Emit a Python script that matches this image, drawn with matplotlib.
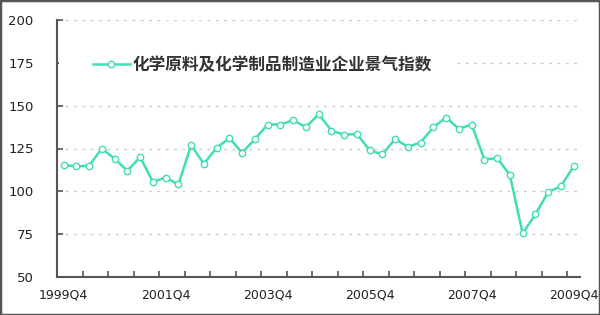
import matplotlib
matplotlib.use("Agg")
import matplotlib.pyplot as plt
from matplotlib.patches import Rectangle
import numpy as np

plt.rcParams['font.family'] = ['Noto Sans CJK SC', 'DejaVu Sans']

quarters = [f"{y}Q{q}" for y, q in
            [(1999, 4)] + [(y, q) for y in range(2000, 2010) for q in (1, 2, 3, 4)]]
index_values = [115.5, 114.5, 115, 125, 119, 112, 120, 105.5, 108, 104,
                127, 116, 125.5, 131, 122.5, 130.5, 139, 139, 141.5, 137.5,
                145, 135.5, 133, 133.5, 124, 121.5, 130.5, 126, 128.5, 137.5,
                143, 136.5, 139, 118.5, 119.5, 109.5, 75.5, 86.5, 99.5, 103,
                114.5]
label_quarters = ["1999Q4", "2001Q4", "2003Q4", "2005Q4", "2007Q4", "2009Q4"]
y_ticks = [50, 75, 100, 125, 150, 175, 200]
series_name = "化学原料及化学制品制造业企业景气指数"

W, H = 600, 315
fig = plt.figure(figsize=(6, 3.15), dpi=100)
fig.patch.set_facecolor("white")
ax = fig.add_axes([57.3 / W, 1 - 277 / H, (580 - 57.3) / W, (277 - 20) / H])

x = np.arange(len(quarters))
line_color = "#42DDB4"
ax.plot(x, index_values, color=line_color, lw=1.8, marker="o", ms=4.6,
        mfc="white", mec=line_color, mew=1.0, label=series_name, zorder=3,
        solid_joinstyle="round")

ax.set_xlim(-0.5, len(quarters) - 0.5)
ax.set_ylim(50, 200)

# y axis
ax.set_yticks(y_ticks)
ax.set_yticklabels([str(v) for v in y_ticks], family="DejaVu Sans",
                   fontsize=9.5, color="#222222")
ax.tick_params(axis="y", direction="in", length=4, width=1.2, color="#555555", pad=17)

# x axis: tick marks at category boundaries every 2 categories
ax.set_xticks(np.arange(1.5, len(quarters) - 0.5, 2))
ax.set_xticklabels([])
ax.tick_params(axis="x", which="major", direction="in", length=4, width=1.2,
               color="#555555")
label_pos = [quarters.index(q) for q in label_quarters]
ax.set_xticks(label_pos, minor=True)
ax.set_xticklabels(label_quarters, minor=True, family="DejaVu Sans",
                   fontsize=9, color="#222222")
ax.tick_params(axis="x", which="minor", length=0, pad=8)

for v in y_ticks[1:]:
    ax.axhline(v, color="#cccccc", lw=1.0, ls=(0, (2, 4)), zorder=1)

for s in ("top", "right"):
    ax.spines[s].set_visible(False)
for s in ("left", "bottom"):
    ax.spines[s].set_color("#555555")
    ax.spines[s].set_linewidth(1.5)

# white legend area (hides the gridline behind the legend, as in the original)
fig.add_artist(Rectangle((59 / W, 1 - 82 / H), (455 - 59) / W, 34 / H,
                         transform=fig.transFigure, facecolor="white",
                         edgecolor="none", zorder=1))

leg = fig.legend(loc="center left", bbox_to_anchor=(93 / W, 1 - 65 / H),
                 frameon=False, borderpad=0, borderaxespad=0,
                 handlelength=2.2, handletextpad=0.2,
                 prop={"family": ["Noto Sans CJK SC", "DejaVu Sans"],
                       "size": 12, "weight": "bold"})
leg.set_zorder(5)
for t in leg.get_texts():
    t.set_color("#333333")

fig.patches.append(Rectangle((0, 0), 1, 1, transform=fig.transFigure,
                             fill=False, edgecolor="#555555", lw=2.5))

fig.savefig("out.png", dpi=100, facecolor="white")
